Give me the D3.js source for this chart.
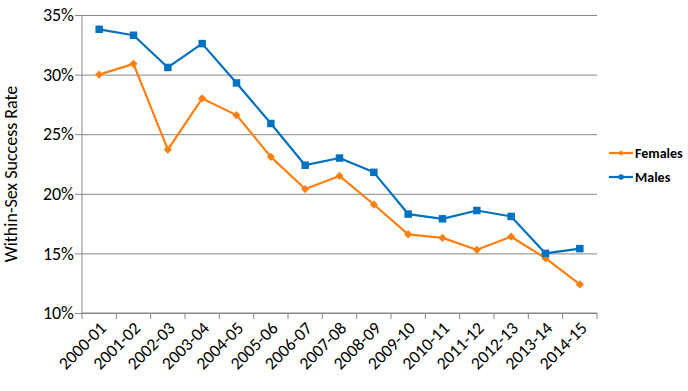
<!DOCTYPE html>
<html><head><meta charset="utf-8">
<script src="https://cdn.jsdelivr.net/npm/d3@7"></script>
<style>body{margin:0;background:#fff}svg{display:block}text{font-family:Carlito,Calibri,Lato,"Open Sans",sans-serif}</style>
</head><body><svg id="c" width="688" height="391"></svg>
<script>
const categories = ["2000-01","2001-02","2002-03","2003-04","2004-05","2005-06","2006-07","2007-08","2008-09","2009-10","2010-11","2011-12","2012-13","2013-14","2014-15"];
const females = [30.0,30.9,23.7,28.0,26.6,23.1,20.4,21.5,19.1,16.6,16.3,15.3,16.4,14.6,12.4];
const males = [33.8,33.3,30.6,32.6,29.3,25.9,22.4,23.0,21.8,18.3,17.9,18.6,18.1,15.0,15.4];
const yTicks = [10,15,20,25,30,35];
const seriesNames = ["Females","Males"];
const colors = ["#FF7F0E","#0070C0"];
const yTitle = "Within-Sex Success Rate";

const svg = d3.select("#c");
const L=82,R=597,T=15,B=313;
const x = d3.scaleBand().domain(categories).range([L,R]);
const y = d3.scaleLinear().domain([10,35]).range([B,T]);
const grid="#868686";

const gy = svg.append("g").attr("transform",`translate(${L},0)`)
  .call(d3.axisLeft(y).tickValues(yTicks).tickFormat(d=>d+"%").tickSize(7).tickSizeInner(-(R-L)).tickPadding(8));
gy.select(".domain").remove();
gy.selectAll(".tick line").attr("stroke",grid).attr("x1",-7);
gy.selectAll(".tick text").attr("font-size",18).attr("fill","#000");
svg.append("line").attr("x1",L).attr("x2",L).attr("y1",T).attr("y2",B).attr("stroke",grid);

const gx = svg.append("g").attr("transform",`translate(0,${B})`)
  .call(d3.axisBottom(x).tickSize(0).tickFormat(d=>d));
gx.select(".domain").attr("stroke",grid).attr("d",`M${L},0H${R}`);
gx.selectAll(".tick text").attr("font-size",17.5).attr("fill","#000")
  .attr("text-anchor","end").attr("dy","0")
  .attr("transform","translate(6,14) rotate(-45)");
const bounds = categories.map(c=>x(c)).concat([R]);
svg.append("g").selectAll("line").data(bounds).join("line")
  .attr("x1",d=>d).attr("x2",d=>d).attr("y1",B).attr("y2",B+6).attr("stroke",grid);

const data=[females,males];
const cx = (i)=>x(categories[i])+x.bandwidth()/2;
const line = d3.line().x((d,i)=>cx(i)).y(d=>y(d));
data.forEach((s,k)=>{
  svg.append("path").datum(s).attr("d",line).attr("fill","none").attr("stroke",colors[k]).attr("stroke-width",2.2).attr("stroke-linejoin","round");
  const sym = d3.symbol().type(d3.symbolSquare).size(k===0?34:56);
  svg.append("g").selectAll("path").data(s).join("path")
    .attr("d",sym).attr("transform",(d,i)=>`translate(${cx(i)},${y(d)})`+(k===0?" rotate(45)":"")).attr("fill",colors[k]);
});

const leg = svg.append("g");
seriesNames.forEach((n,k)=>{
  const ly = 153 + k*24;
  leg.append("line").attr("x1",609).attr("x2",633).attr("y1",ly).attr("y2",ly).attr("stroke",colors[k]).attr("stroke-width",2.2);
  leg.append("path").attr("d",d3.symbol().type(k===0?d3.symbolSquare:d3.symbolCircle).size(k===0?16:24)).attr("transform",`translate(621,${ly})`+(k===0?" rotate(45)":"")).attr("fill",colors[k]);
  leg.append("text").attr("x",635).attr("y",ly).attr("dy","0.35em").attr("font-size",14).attr("font-weight","bold").text(n);
});

svg.append("text").attr("transform",`translate(17,${(T+B)/2+10}) rotate(-90)`).attr("text-anchor","middle").attr("font-size",18).text(yTitle);
</script></body></html>
